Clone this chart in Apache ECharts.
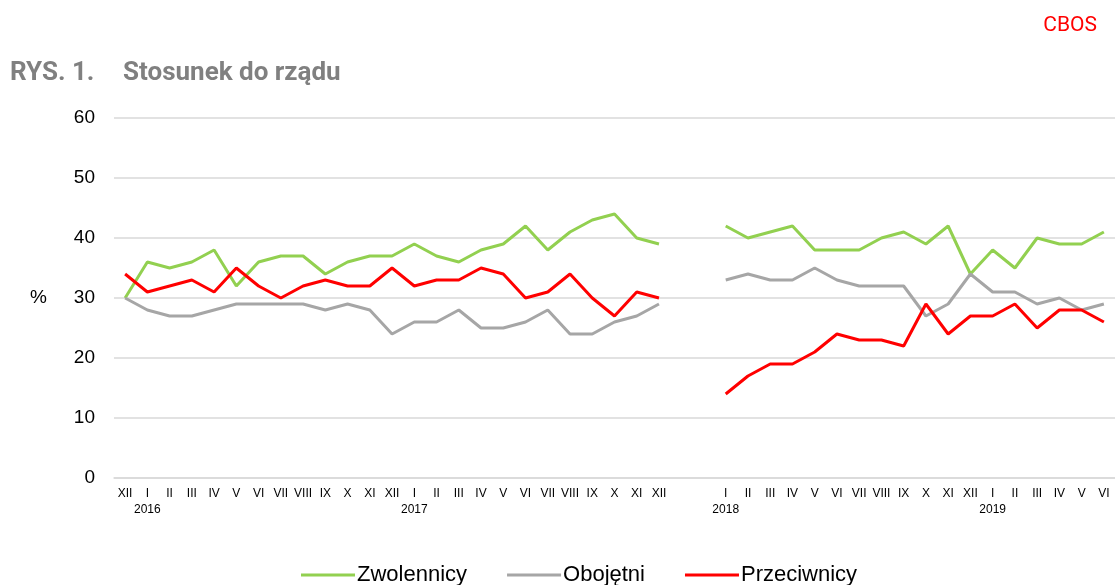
<!DOCTYPE html>
<html><head><meta charset="utf-8">
<script src="https://cdn.jsdelivr.net/npm/echarts@6/dist/echarts.min.js"></script>
<style>html,body{margin:0;padding:0;background:#fff}#c{width:1115px;height:585px}</style>
</head><body><div id="c"></div>
<script>
var months = ['XII','I','II','III','IV','V','VI','VII','VIII','IX','X','XI','XII','I','II','III','IV','V','VI','VII','VIII','IX','X','XI','XII','','','I','II','III','IV','V','VI','VII','VIII','IX','X','XI','XII','I','II','III','IV','V','VI'];
var years  = ['','2016','','','','','','','','','','','','2017','','','','','','','','','','','','','','2018','','','','','','','','','','','','2019','','','','',''];
var zwolennicy  = [30,36,35,36,38,32,36,37,37,34,36,37,37,39,37,36,38,39,42,38,41,43,44,40,39,null,null,42,40,41,42,38,38,38,40,41,39,42,34,38,35,40,39,39,41];
var obojetni    = [30,28,27,27,28,29,29,29,29,28,29,28,24,26,26,28,25,25,26,28,24,24,26,27,29,null,null,33,34,33,33,35,33,32,32,32,27,29,34,31,31,29,30,28,29];
var przeciwnicy = [34,31,32,33,31,35,32,30,32,33,32,32,35,32,33,33,35,34,30,31,34,30,27,31,30,null,null,14,17,19,19,21,24,23,23,22,29,24,27,27,29,25,28,28,26];
var yTicks = [0,10,20,30,40,50,60];

var cats = months.map(function(m,i){ return years[i] ? m + '\n' + years[i] : m; });
var chart = echarts.init(document.getElementById('c'));
function line(name, data, color){
  return {name:name, type:'line', data:data, symbol:'none', smooth:false,
    lineStyle:{color:color, width:3}, itemStyle:{color:color}, connectNulls:false};
}
chart.setOption({
  animation:false,
  textStyle:{fontFamily:'Liberation Sans, Arial, sans-serif'},
  title:{
    left:5, top:55,
    text:'{a|RYS. 1.}{b|Stosunek do rządu}',
    textStyle:{rich:{
      a:{fontFamily:'Roboto', fontWeight:'bold', fontSize:26, color:'#808080', width:113},
      b:{fontFamily:'Roboto', fontWeight:'bold', fontSize:26, color:'#808080'}
    }}
  },
  graphic:[{type:'text', right:18, top:15, style:{text:'CBOS', fill:'#ff0000', font:'21px Roboto'}}],
  legend:{
    left:296, top:559, itemWidth:54, itemHeight:3, itemGap:40, icon:'rect',
    textStyle:{fontSize:22, color:'#000', fontFamily:'Liberation Sans, Arial', padding:[0,0,0,-3]},
    data:['Zwolennicy','Obojętni','Przeciwnicy']
  },
  grid:{left:114, right:0, top:118, bottom:107, containLabel:false},
  xAxis:{
    type:'category', data:cats, boundaryGap:true,
    axisLine:{show:true, lineStyle:{color:'#d9d9d9', width:1.5}},
    axisTick:{show:false},
    axisLabel:{interval:0, fontSize:12, color:'#000', margin:8, lineHeight:16, fontFamily:'Liberation Sans, Arial'}
  },
  yAxis:{
    type:'value', min:yTicks[0], max:yTicks[yTicks.length-1], interval:10,
    name:'%', nameLocation:'middle', nameRotate:0, nameGap:67,
    nameTextStyle:{fontSize:19, color:'#000', fontFamily:'Liberation Sans, Arial'},
    axisLine:{show:false}, axisTick:{show:false},
    axisLabel:{fontSize:19, color:'#000', margin:19, fontFamily:'Liberation Sans, Arial'},
    splitLine:{lineStyle:{color:'#d9d9d9', width:1.5}}
  },
  series:[
    line('Zwolennicy', zwolennicy, '#92d050'),
    line('Obojętni', obojetni, '#a6a6a6'),
    line('Przeciwnicy', przeciwnicy, '#ff0000')
  ]
});
</script></body></html>
